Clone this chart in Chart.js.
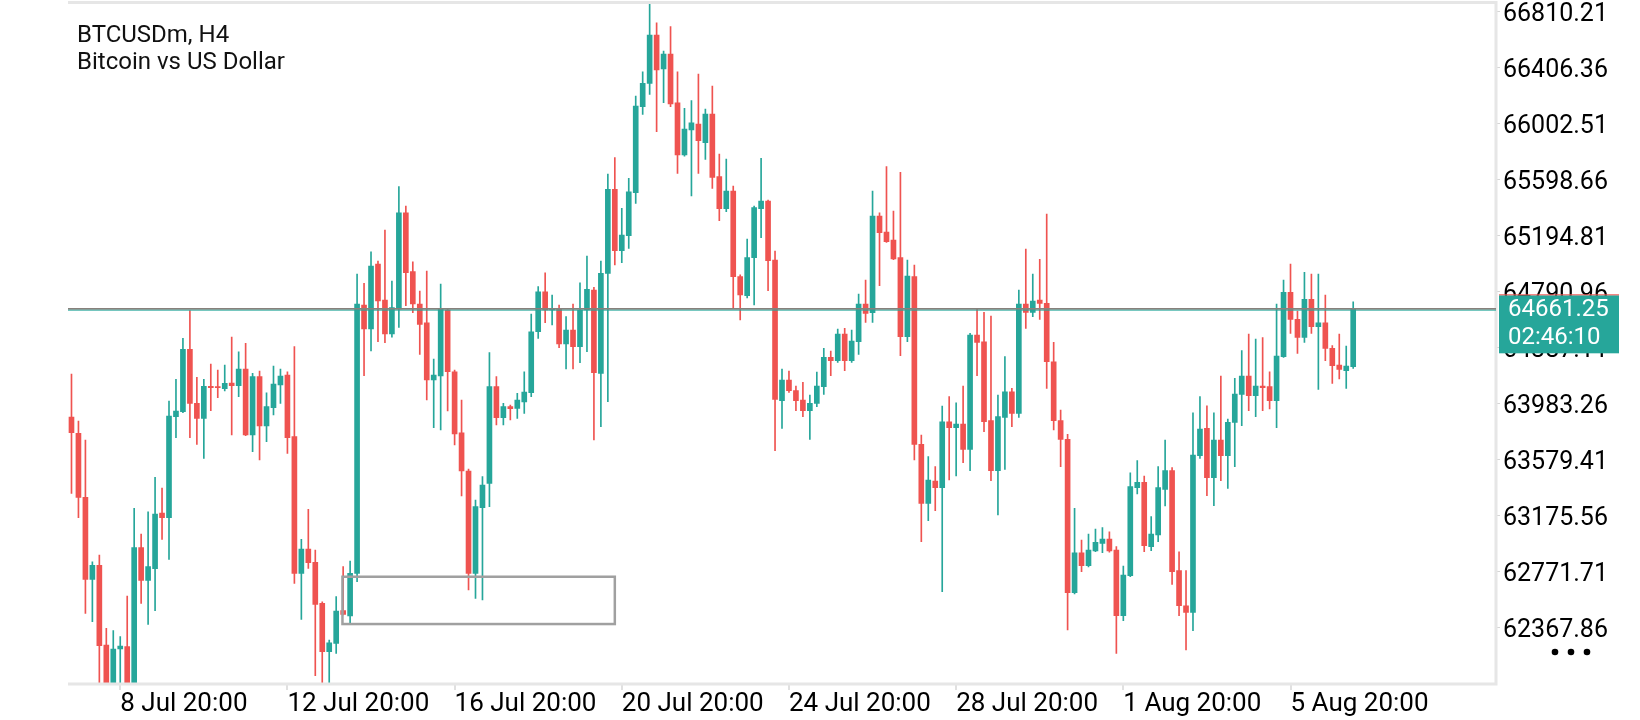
<!DOCTYPE html>
<html>
<head>
<meta charset="utf-8">
<script src="https://cdn.jsdelivr.net/npm/chart.js@4.4.1/dist/chart.umd.min.js"></script>
<style>
html,body{margin:0;padding:0;background:#ffffff;overflow:hidden}
canvas{display:block}
</style>
</head>
<body>
<canvas id="c" width="1640" height="720"></canvas>
<script>
// ---------- DATA ----------
const symbolTitle = "BTCUSDm, H4";
const symbolName = "Bitcoin vs US Dollar";
const firstCandleTime = Date.UTC(2024, 6, 7, 16, 0); // first candle: 7 Jul 16:00
const slotCount = 205; // number of H4 slots on the time axis (incl. empty right margin)
const monthNames = ["Jan","Feb","Mar","Apr","May","Jun","Jul","Aug","Sep","Oct","Nov","Dec"];

const opens = [63884.7,63767.2,63305.8,62714.5,62815.5,62240.8,61940,62212.0,62228.6,61940,
62942.4,62707.3,62791.0,63192.6,63158.7,63886.9,63922.9,64372.8,63983.5,63875.3,
64106.1,64101.0,64088.8,64129.9,64110.4,64230.8,63754.9,64175.3,63819.8,63951.8,
64115.4,64187.5,63742.7,62757.8,62933.0,62837.1,62541.5,62192.5,62253.1,62488.2,
62449.9,62757.8,64692.2,64519.2,64987.9,64728.3,64483.2,64663.4,65357.7,64932.4,
64699.5,64564.6,64151.5,64180.3,64656.2,64211.3,63771.5,63495.4,62757.8,63230.8,
63406.7,64103.2,63879.7,63959.0,63947.5,63992.9,64059.9,64499.7,64788.1,64656.2,
64665.6,64411.1,64512.0,64391.6,64656.2,64800.4,64199.8,64920.8,65526.4,65083.8,
65191.9,65501.9,66122.0,66290.7,66638.9,66393.8,66502.0,66150.8,65773.7,65954.0,
65997.3,65862.4,66069.4,65617.3,65386.6,65514.2,64896.3,64759.3,65033.3,65386.6,
65442.1,65016.7,64002.3,64151.5,64074.4,64007.3,63930.2,63983.5,64103.2,64315.2,
64290.7,64483.2,64290.7,64427.6,64699.5,64636.7,65333.9,65218.6,65160.9,65033.3,
64463.7,64896.3,63687.9,63262.5,63423.3,63375.0,63850.8,63807.6,63834.3,63651.8,
64475.9,64427.6,63858.1,63497.6,63882.6,64067.1,63911.4,64699.5,64639.6,64728.3,
64704.5,64283.4,63858.1,63723.9,62617.9,62906.3,62812.6,62918.6,62974.1,63005.1,
62925.8,62452.1,62740.5,63375.0,63413.9,62949.6,63033.9,63363.4,63497.6,62776.6,
62524.2,62476.6,63605.7,63803.3,63447.1,63718.9,63605.7,63846.5,64048.4,64180.3,
64038.3,64108.2,64103.2,64002.3,64319.5,64783.8,64589.1,64459.4,64733.3,64535.8,
64564.6,64380.1,64259.6,64218.6,64247.4];

const highs = [64194.8,63855.9,63718.9,62841.4,62889.7,62361.3,62344.0,62300.7,62594.1,63226.5,
63041.2,63201.9,63450.0,63372.8,64000.1,64156.5,64452.2,64651.2,64171.0,64156.5,
64266.9,64223.6,64259.6,64461.5,64355.5,64416.1,64199.8,64216.4,64059.9,64252.4,
64230.8,64211.3,64391.6,63002.9,63219.2,62925.8,62553.0,62276.9,62589.1,62805.4,
62846.5,64915.8,64848.7,65076.5,65009.5,65233.0,64865.3,65545.2,65406.0,65004.4,
64793.2,64937.4,64302.9,64843.7,64665.0,64223.6,64007.3,63509.8,63286.3,63454.3,
64349.3,64175.3,63983.5,63971.2,64055.6,64211.3,64627.4,64824.2,64925.1,64764.3,
64692.2,64607.9,64699.5,64853.0,65045.5,64819.9,65009.5,65636.8,65754.3,65389.5,
65605.8,66199.1,66374.3,66867.5,66727.6,66523.6,66698.8,66374.3,66110.5,66165.3,
66357.8,66105.4,66271.2,65781.0,65744.9,65550.2,64910.0,65168.1,65406.0,65750.0,
65449.3,65081.6,64230.8,64216.4,64108.2,64134.9,64043.3,64209.2,64380.1,64360.6,
64519.2,64524.3,64512.0,64771.6,64872.5,65514.2,65357.7,65689.4,65370.0,65649.0,
65016.7,64980.6,63754.9,63598.5,63526.4,63964.0,64031.1,63987.8,64108.2,64488.2,
64668.5,64639.6,64612.9,64043.3,64319.5,64091.7,64800.4,65096.0,64915.8,65021.7,
65348.4,64423.3,63935.2,63760.0,63226.5,62997.9,63041.2,63077.2,63086.6,63057.7,
62949.6,62810.4,63483.1,63569.7,63459.3,63165.9,63526.4,63718.9,63519.2,62913.5,
62776.6,63915.7,64031.1,63966.2,63915.7,64180.3,63870.3,64163.8,64362.8,64483.2,
64447.1,64456.5,64211.3,64699.5,64872.5,64987.9,64649.0,64928.0,64915.8,64915.8,
64764.3,64398.8,64483.2,64396.6,64716.0];

const lows = [63334.6,63158.7,62469.4,62408.8,61900,61880,61880,61900,61880,61900,
62541.5,62390.1,62488.2,63002.9,62858.7,63735.5,63915.7,63735.5,63687.9,63587.0,
63930.2,64023.9,64072.2,63754.9,64031.1,63750.0,63634.5,63574.7,63706.6,63899.1,
63983.5,63623.0,62685.7,62426.1,62793.9,62019.5,61966.9,61966.9,62181.0,62457.1,
62397.3,62697.2,64182.5,64360.6,64427.6,64420.4,64460.0,64530.0,64687.2,64636.7,
64336.8,64007.3,63807.6,63791.0,63928.0,63682.8,63315.1,62637.4,62577.6,62565.3,
63238.0,63827.0,63827.0,63863.1,63875.3,63911.4,64031.1,64452.2,64564.6,64548.0,
64384.4,64230.8,64230.8,64276.2,64355.5,63718.9,63814.8,63995.0,64980.6,64997.2,
65101.1,65425.5,66067.2,66211.4,65941.7,66150.8,66122.0,65641.8,65765.0,65478.1,
65641.8,65742.7,65533.7,65300.1,65364.9,64668.4,64584.1,64742.7,64692.2,65177.5,
64795.4,63641.8,63803.3,64062.8,63930.2,63886.9,63723.9,63959.0,64048.4,64182.5,
64279.1,64218.6,64279.1,64336.8,64567.5,64567.5,64831.4,65144.3,65020.0,64326.7,
64427.6,63574.7,62985.6,63137.1,63209.2,62625.1,63430.5,63459.3,63555.2,63497.6,
64182.5,63778.7,63425.5,63178.1,63507.6,63814.8,63882.6,64524.3,64607.9,64589.1,
64091.7,63791.0,63526.4,62349.0,62608.6,62769.4,62803.2,62913.5,62906.3,62910.0,
62181.0,62416.1,62733.3,63329.6,62913.5,62920.8,62985.6,63243.0,62678.5,62452.1,
62204.8,62344.0,63587.0,63317.3,63245.2,63425.5,63370.7,63526.4,63822.0,63930.2,
63886.9,63930.2,63942.4,63807.6,64315.0,64488.2,64344.0,64423.3,64488.2,64084.4,
64290.7,64127.7,64158.7,64091.7,64235.9];

const closes = [63771.5,63305.8,62714.5,62815.5,62235.8,61930,62212.0,62233.6,61940,62942.4,
62707.3,62805.4,63185.4,63158.7,63891.9,63928.0,64372.8,63983.5,63875.3,64106.1,
64096.0,64096.0,64127.7,64110.4,64230.8,63754.9,64175.3,63819.8,63959.0,64122.7,
64180.3,63735.5,62757.8,62933.0,62834.2,62534.3,62192.5,62257.4,62486.0,62462.2,
62757.8,64699.5,64519.2,64973.4,64721.1,64483.2,64672.8,65357.7,64925.1,64699.5,
64553.1,64151.5,64187.5,64661.2,64211.3,63762.2,63495.4,62757.8,63238.0,63394.4,
64103.2,63879.7,63959.0,63944.6,64007.3,64065.0,64499.7,64788.1,64656.2,64665.6,
64411.1,64512.0,64391.6,64656.2,64805.4,64204.1,64920.8,65526.4,65083.8,65196.9,
65509.1,66127.0,66290.7,66638.9,66386.6,66502.0,66141.5,65773.7,65961.2,66006.6,
65876.9,66069.4,65613.0,65386.6,65514.2,64896.3,64764.3,65033.3,65395.2,65442.1,
65011.7,64012.3,64151.5,64074.4,64002.3,63930.2,63983.5,64108.2,64315.2,64290.7,
64483.2,64290.7,64432.7,64699.5,64632.4,65333.9,65213.5,65148.6,65023.9,64463.7,
64901.3,63687.9,63262.5,63430.5,63375.0,63850.8,63807.6,63834.3,63651.8,64475.9,
64423.3,63850.8,63497.6,63886.9,64067.1,63911.4,64699.5,64639.6,64721.1,64704.5,
64283.4,63858.1,63723.9,62617.9,62906.3,62812.6,62925.8,62981.3,63005.1,62918.6,
62452.1,62745.6,63382.2,63413.9,62956.8,63041.2,63375.0,63497.6,62769.3,62524.2,
62476.6,63610.7,63798.2,63447.1,63718.9,63605.7,63846.5,64050.6,64180.3,64038.3,
64108.2,64096.0,64002.3,64324.5,64783.8,64589.1,64459.4,64733.3,64535.8,64564.6,
64380.1,64254.6,64228.6,64252.4,64661.25];

const yTicks = [66810.21,66406.36,66002.51,65598.66,65194.81,64790.96,64387.11,63983.26,63579.41,63175.56,62771.71,62367.86];
const xTickLabels = ["8 Jul 20:00","12 Jul 20:00","16 Jul 20:00","20 Jul 20:00","24 Jul 20:00","28 Jul 20:00","1 Aug 20:00","5 Aug 20:00"];
const yMin = 61959.7;
const yMax = 66873.3;
const lastPrice = 64661.25;
const timerText = "02:46:10";
const boxSlots = [38.9, 78.0];       // drawn rectangle: time extent (slot index)
const boxPrices = [62733.0, 62392.0]; // drawn rectangle: price extent

// ---------- BUILD ----------
const categories = [];
for (let i = 0; i < slotCount; i++) {
  const d = new Date(firstCandleTime + i * 4 * 3600 * 1000);
  const hh = String(d.getUTCHours()).padStart(2, '0');
  categories.push(d.getUTCDate() + ' ' + monthNames[d.getUTCMonth()] + ' ' + hh + ':00');
}
const UP = '#26a69a', DOWN = '#ef5350';
const colors = opens.map((o, i) => closes[i] >= o ? UP : DOWN);

const FONT = 'Roboto, "Noto Sans", sans-serif';

const overlay = {
  id: 'overlay',
  afterDatasetsDraw(chart) {
    const {ctx, chartArea: a, scales: {x, y}} = chart;
    ctx.save();
    // frame
    ctx.strokeStyle = '#e6e6e6';
    ctx.lineWidth = 3;
    ctx.beginPath();
    ctx.moveTo(a.left, a.top); ctx.lineTo(a.right, a.top);
    ctx.lineTo(a.right, a.bottom); ctx.lineTo(a.left, a.bottom);
    ctx.stroke();
    // drawn rectangle
    const rx1 = x.getPixelForValue(boxSlots[0]), rx2 = x.getPixelForValue(boxSlots[1]);
    const ry1 = y.getPixelForValue(boxPrices[0]), ry2 = y.getPixelForValue(boxPrices[1]);
    ctx.strokeStyle = '#a0a0a0';
    ctx.lineWidth = 2.5;
    ctx.strokeRect(rx1, ry1, rx2 - rx1, ry2 - ry1);
    // price line (bid line: grey with teal lower edge)
    const py = y.getPixelForValue(lastPrice);
    ctx.lineWidth = 1.8;
    ctx.strokeStyle = '#88817c';
    ctx.beginPath(); ctx.moveTo(a.left, py - 0.5); ctx.lineTo(a.right, py - 0.5); ctx.stroke();
    ctx.lineWidth = 0.9;
    ctx.strokeStyle = '#26a69a';
    ctx.beginPath(); ctx.moveTo(a.left, py + 0.9); ctx.lineTo(a.right, py + 0.9); ctx.stroke();
    ctx.restore();
  },
  afterDraw(chart) {
    const {ctx, chartArea: a, scales: {y}} = chart;
    ctx.save();
    const py = y.getPixelForValue(lastPrice);
    // price label box
    const bx = a.right + 3, bw = 120, by = py - 14, bh = 58;
    ctx.fillStyle = '#26a69a';
    ctx.fillRect(bx, by, bw, bh);
    ctx.fillStyle = '#ef5350';
    ctx.fillRect(bx, by - 1, bw, 1);
    ctx.fillStyle = '#ffffff';
    ctx.font = '24px ' + FONT;
    ctx.textAlign = 'left';
    ctx.textBaseline = 'middle';
    ctx.fillText(lastPrice.toFixed(2), bx + 9, by + 15);
    ctx.fillText(timerText, bx + 9, by + 43);
    // dots
    ctx.fillStyle = '#000';
    [1555, 1571, 1587].forEach(cx => { ctx.beginPath(); ctx.arc(cx, 652, 3.3, 0, Math.PI * 2); ctx.fill(); });
    // title
    ctx.fillStyle = '#111';
    ctx.font = '24px ' + FONT;
    ctx.textBaseline = 'alphabetic';
    ctx.fillText(symbolTitle, 77, 41.7);
    ctx.fillText(symbolName, 77, 69.3);
    ctx.restore();
  }
};

function draw() {
  new Chart(document.getElementById('c'), {
    type: 'bar',
    data: {
      labels: categories,
      datasets: [
        { label: 'wick', data: highs.map((h, i) => [lows[i], h]), backgroundColor: colors,
          barThickness: 1, grouped: false, clip: 0, order: 2, borderWidth: 0 },
        { label: 'body', data: opens.map((o, i) => [o, closes[i]]), backgroundColor: colors,
          barThickness: 5, minBarLength: 1, grouped: false, clip: 0, order: 1, borderWidth: 0 }
      ]
    },
    options: {
      responsive: false,
      animation: false,
      devicePixelRatio: 1,
      events: [],
      layout: { padding: { left: 68, top: 2.5, right: 0, bottom: 0 } },
      plugins: { legend: { display: false }, tooltip: { enabled: false }, title: { display: false } },
      scales: {
        x: {
          type: 'category',
          offset: true,
          grid: { display: true, drawOnChartArea: false, drawTicks: true, tickLength: 6,
                  color: '#e0e0e0', lineWidth: 2, offset: false },
          border: { display: false },
          ticks: { autoSkip: false, maxRotation: 0, minRotation: 0, align: 'start', padding: 1,
                   color: '#000', font: { family: FONT, size: 26, lineHeight: 1 } },
          afterBuildTicks: s => { s.ticks = s.ticks.filter(t => xTickLabels.includes(categories[t.value])); },
          afterFit: s => { s.height = 36; s.paddingLeft = 0; s.paddingRight = 0; }
        },
        y: {
          type: 'linear',
          position: 'right',
          min: yMin,
          max: yMax,
          grid: { display: true, drawOnChartArea: false, drawTicks: true, tickLength: 4,
                  color: '#d6d6d6', lineWidth: 1 },
          border: { display: false },
          ticks: { padding: 3, labelOffset: 3, color: '#000', font: { family: FONT, size: 25 },
                   callback: v => Number(v).toFixed(2) },
          afterBuildTicks: s => { s.ticks = yTicks.map(v => ({ value: v })); },
          afterFit: s => { s.width = 144; s.paddingTop = 0; s.paddingBottom = 0; }
        }
      }
    },
    plugins: [overlay]
  });
}

if (document.fonts && document.fonts.load) {
  document.fonts.load('24px Roboto').then(draw, draw);
} else {
  draw();
}
</script>
</body>
</html>
